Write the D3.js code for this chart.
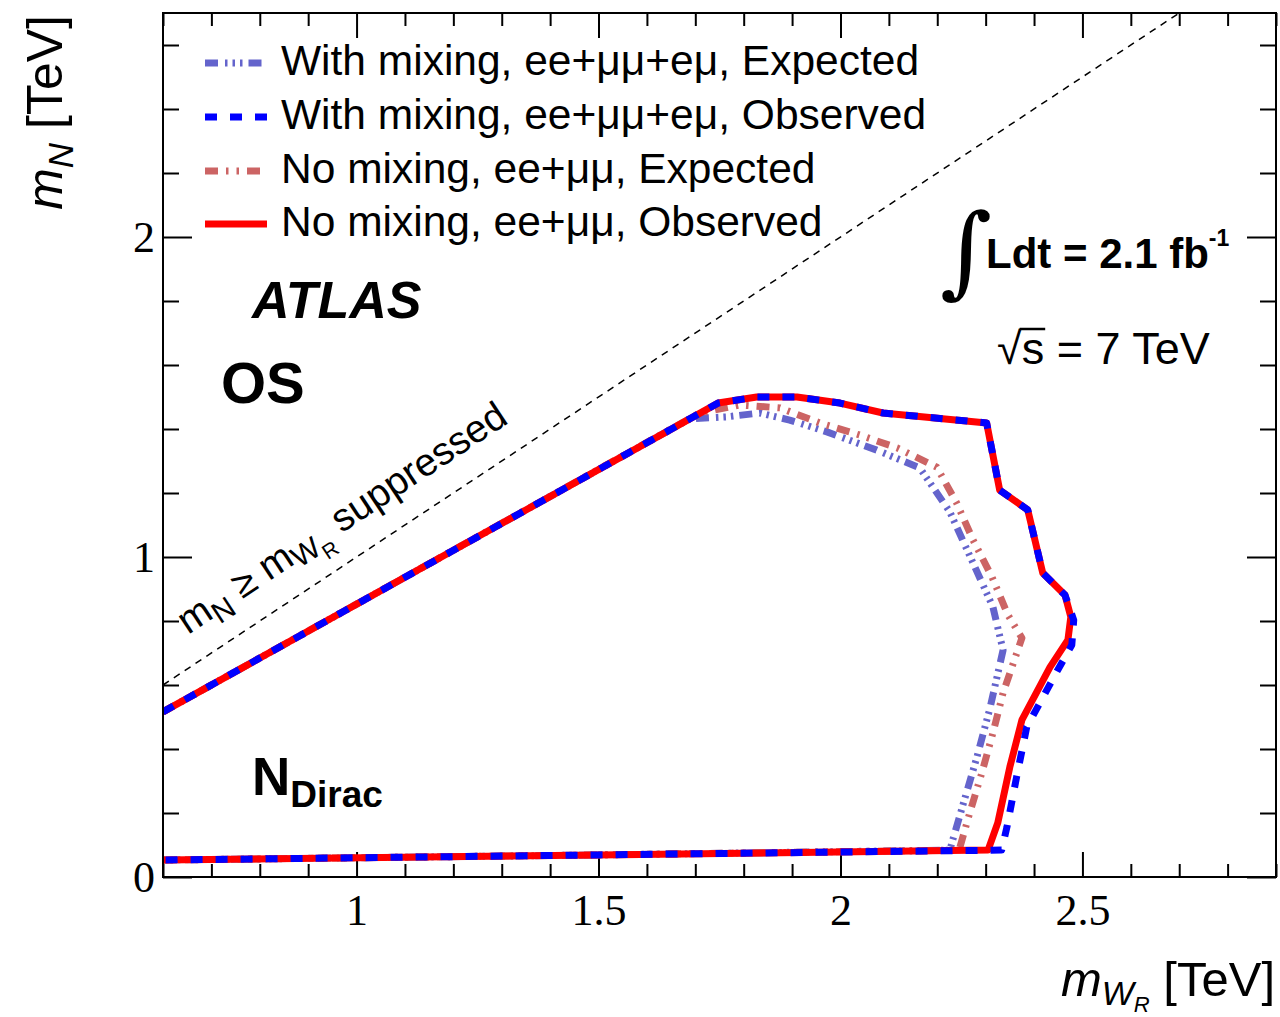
<!DOCTYPE html>
<html><head><meta charset="utf-8">
<script src="https://cdn.jsdelivr.net/npm/d3@7"></script>
<style>body{margin:0;background:#fff} svg{display:block}</style>
</head><body>
<svg id="c" width="1280" height="1017"></svg>
<script>
// ---------- data (m_WR [TeV], m_N [TeV]) ----------
const expMixing = [[0.6,0.516],[1.689,1.432],[1.765,1.438],[1.833,1.450],[1.895,1.428],[1.972,1.391],[2.075,1.334],[2.164,1.278],[2.226,1.141],[2.271,0.991],[2.315,0.844],[2.336,0.709],[2.309,0.528],[2.282,0.375],[2.253,0.225],[2.232,0.116],[2.226,0.084],[1.5,0.069],[0.6,0.053]];
const obsMixing = [[0.6,0.516],[1.747,1.481],[1.827,1.500],[1.910,1.500],[1.999,1.481],[2.088,1.450],[2.302,1.419],[2.329,1.209],[2.387,1.147],[2.418,0.950],[2.464,0.881],[2.482,0.803],[2.478,0.725],[2.449,0.647],[2.412,0.544],[2.385,0.469],[2.364,0.313],[2.344,0.156],[2.333,0.084],[1.5,0.069],[0.6,0.053]];
const expNoMixing = [[0.6,0.516],[1.709,1.450],[1.792,1.475],[1.875,1.466],[1.957,1.419],[2.040,1.381],[2.117,1.341],[2.199,1.281],[2.240,1.169],[2.274,1.053],[2.313,0.938],[2.346,0.819],[2.375,0.747],[2.336,0.575],[2.315,0.450],[2.292,0.325],[2.267,0.200],[2.247,0.094],[2.245,0.084],[1.5,0.069],[0.6,0.053]];
const obsNoMixing = [[0.6,0.516],[1.747,1.481],[1.827,1.500],[1.910,1.500],[1.999,1.481],[2.088,1.450],[2.302,1.419],[2.329,1.209],[2.387,1.147],[2.418,0.950],[2.464,0.881],[2.476,0.813],[2.470,0.741],[2.433,0.656],[2.375,0.491],[2.350,0.344],[2.325,0.169],[2.305,0.084],[1.5,0.069],[0.6,0.053]];
const diagonal = [[0.6,0.6],[2.7,2.7]];

const legendLabels = ["With mixing, ee+\u03bc\u03bc+e\u03bc, Expected","With mixing, ee+\u03bc\u03bc+e\u03bc, Observed","No mixing, ee+\u03bc\u03bc, Expected","No mixing, ee+\u03bc\u03bc, Observed"];
const xMajorTicks = [1, 1.5, 2, 2.5];
const xTickLabels = ["1","1.5","2","2.5"];
const yMajorTicks = [0, 1, 2];
const yTickLabels = ["0","1","2"];
const xDomain = [0.6, 2.9];
const yDomain = [0, 2.7];

// ---------- styles ----------
const series = [
  {data: expMixing,   color:"#6464cc", width:7, dash:"13,7,2.5,5,2.5,5,2.5,6"},
  {data: obsMixing,   color:"#0000ff", width:7, dash:"12,13"},
  {data: expNoMixing, color:"#cc6464", width:7, dash:"13,8,2.5,8,2.5,8"},
  {data: obsNoMixing, color:"#ff0000", width:7, dash:null}
];
const drawOrder = [0, 2, 3, 1];

const L = 163, R = 1276, T = 13, B = 877;
const svg = d3.select("#c");
const x = d3.scaleLinear().domain(xDomain).range([L, R]);
const y = d3.scaleLinear().domain(yDomain).range([B, T]);

const xMinor = d3.range(6, 30).map(v => v/10).filter(v => !xMajorTicks.some(m => Math.abs(m-v) < 1e-6));
const yMinor = d3.range(1, 14).map(v => v/5).filter(v => !yMajorTicks.some(m => Math.abs(m-v) < 1e-6));

const tickFont = "'Liberation Serif','Times New Roman',serif";
function styleAxis(g){ g.select(".domain").remove(); g.selectAll(".tick line").attr("stroke","#000").attr("stroke-width",2); }

// bottom
svg.append("g").attr("transform",`translate(0,${B})`)
  .call(d3.axisBottom(x).tickValues(xMajorTicks).tickSize(-25).tickPadding(17).tickFormat((d,i)=>xTickLabels[i]))
  .call(styleAxis).call(g=>g.selectAll("text").attr("font-family",tickFont).attr("font-size",44).attr("fill","#000"));
svg.append("g").attr("transform",`translate(0,${B})`)
  .call(d3.axisBottom(x).tickValues(xMinor).tickSize(-13).tickFormat("")).call(styleAxis);
// top
svg.append("g").attr("transform",`translate(0,${T})`)
  .call(d3.axisTop(x).tickValues(xMajorTicks).tickSize(-25).tickFormat("")).call(styleAxis);
svg.append("g").attr("transform",`translate(0,${T})`)
  .call(d3.axisTop(x).tickValues(xMinor).tickSize(-13).tickFormat("")).call(styleAxis);
// left
svg.append("g").attr("transform",`translate(${L},0)`)
  .call(d3.axisLeft(y).tickValues(yMajorTicks).tickSize(-29).tickPadding(8).tickFormat((d,i)=>yTickLabels[i]))
  .call(styleAxis).call(g=>g.selectAll("text").attr("font-family",tickFont).attr("font-size",44).attr("fill","#000"));
svg.append("g").attr("transform",`translate(${L},0)`)
  .call(d3.axisLeft(y).tickValues(yMinor).tickSize(-16).tickFormat("")).call(styleAxis);
// right
svg.append("g").attr("transform",`translate(${R},0)`)
  .call(d3.axisRight(y).tickValues(yMajorTicks).tickSize(-29).tickFormat("")).call(styleAxis);
svg.append("g").attr("transform",`translate(${R},0)`)
  .call(d3.axisRight(y).tickValues(yMinor).tickSize(-16).tickFormat("")).call(styleAxis);

// clip
svg.append("clipPath").attr("id","plot").append("rect").attr("x",L).attr("y",T).attr("width",R-L).attr("height",B-T);
const plot = svg.append("g").attr("clip-path","url(#plot)");
const line = d3.line().x(d=>x(d[0])).y(d=>y(d[1]));

plot.append("path").attr("d", line(diagonal)).attr("fill","none").attr("stroke","#000").attr("stroke-width",1.5).attr("stroke-dasharray","7,6");

drawOrder.forEach(i => {
  const s = series[i];
  plot.append("path").attr("d", line(s.data)).attr("fill","none")
    .attr("stroke", s.color).attr("stroke-width", s.width)
    .attr("stroke-dasharray", s.dash).attr("stroke-linejoin","round").attr("stroke-linecap","butt");
});

// frame
svg.append("rect").attr("x",L).attr("y",T).attr("width",R-L).attr("height",B-T).attr("fill","none").attr("stroke","#000").attr("stroke-width",2);

const sans = "'Liberation Sans',Arial,Helvetica,sans-serif";

// legend
const legY = [63, 117, 171, 224];
[0,1,2,3].forEach(i => {
  const s = series[i];
  svg.append("line").attr("x1",205).attr("x2",267).attr("y1",legY[i]).attr("y2",legY[i])
    .attr("stroke",s.color).attr("stroke-width",s.width).attr("stroke-dasharray",s.dash);
  svg.append("text").attr("x",281).attr("y",legY[i]+12).attr("font-family",sans).attr("font-size",42.5).attr("fill","#000").text(legendLabels[i]);
});

// axis titles
const yt = svg.append("text").attr("transform","translate(62,15) rotate(-90)").attr("text-anchor","end")
  .attr("font-family",sans).attr("font-size",50).attr("fill","#000");
yt.append("tspan").attr("font-style","italic").text("m");
yt.append("tspan").attr("font-style","italic").attr("font-size",35).attr("dy",11).text("N");
yt.append("tspan").attr("dy",-11).text(" [TeV]");

const xt = svg.append("text").attr("x",1275).attr("y",996).attr("text-anchor","end")
  .attr("font-family",sans).attr("font-size",49).attr("fill","#000");
xt.append("tspan").attr("font-style","italic").text("m");
xt.append("tspan").attr("font-style","italic").attr("font-size",34).attr("dy",9).text("W");
xt.append("tspan").attr("font-style","italic").attr("font-size",22).attr("dy",7).text("R");
xt.append("tspan").attr("dy",-16).text(" [TeV]");

// labels
svg.append("text").attr("x",252).attr("y",318).attr("font-family",sans).attr("font-weight","bold").attr("font-style","italic").attr("font-size",52).text("ATLAS");
svg.append("text").attr("x",221).attr("y",403).attr("font-family",sans).attr("font-weight","bold").attr("font-size",58).text("OS");
const nd = svg.append("text").attr("x",252).attr("y",795).attr("font-family",sans).attr("font-weight","bold").attr("font-size",53);
nd.append("tspan").text("N");
nd.append("tspan").attr("font-size",37).attr("dy",12).text("Dirac");

// diagonal label
const ang = Math.atan2(y(0)-y(1), x(1)-x(0)) * 180/Math.PI;
const dl = svg.append("text").attr("transform",`translate(188,635) rotate(${-ang})`).attr("font-family",sans).attr("font-size",39).attr("fill","#000");
dl.append("tspan").text("m");
dl.append("tspan").attr("font-size",30).attr("dy",9).text("N");
dl.append("tspan").attr("dy",-9).text(" \u2265 m");
dl.append("tspan").attr("font-size",30).attr("dy",6).text("W");
dl.append("tspan").attr("font-size",21).attr("dy",9).text("R");
dl.append("tspan").attr("dy",-15).text(" suppressed");

// luminosity
svg.append("text").attr("x",940).attr("y",285).attr("font-family","'DejaVu Serif','Liberation Serif',serif").attr("font-size",100).text("\u222b");
const lum = svg.append("text").attr("x",986).attr("y",268).attr("font-family",sans).attr("font-weight","bold").attr("font-size",42);
lum.append("tspan").text("Ldt = 2.1 fb");
lum.append("tspan").attr("font-size",23).attr("dy",-22).text("-1");

const rs = svg.append("text").attr("x",997).attr("y",364).attr("font-family",sans).attr("font-size",45);
rs.append("tspan").text("\u221as = 7 TeV");
const rn = rs.node();
const s0 = rn.getStartPositionOfChar(1), s1 = rn.getEndPositionOfChar(1);
svg.append("line").attr("x1", s0.x - 2).attr("x2", s1.x + 1).attr("y1", 329).attr("y2", 329).attr("stroke","#000").attr("stroke-width",2.5);
</script>
</body></html>
